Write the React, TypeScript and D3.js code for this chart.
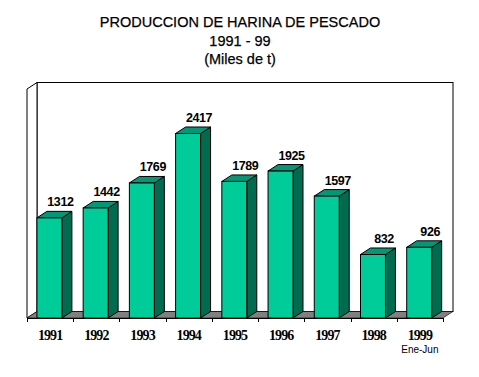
import React from "react";
import * as d3 from "d3";

const years = ["1991", "1992", "1993", "1994", "1995", "1996", "1997", "1998", "1999"];
const values = [1312, 1442, 1769, 2417, 1789, 1925, 1597, 832, 926];
const valueLabels = ["1312", "1442", "1769", "2417", "1789", "1925", "1597", "832", "926"];
const titleLines = ["PRODUCCION DE HARINA DE PESCADO", "1991 - 99", "(Miles de t)"];
const subLabel = "Ene-Jun";

const W = 479;
const H = 377;
const left = 27;
const right = 443;
const base = 318;
const top = 89;
const dx = 10;
const dy = -6.5;

export default function App() {
  const x = d3.scaleBand<string>().domain(years).range([left, right]).paddingInner(0).paddingOuter(0);
  const y = d3.scaleLinear().domain([0, 3000]).range([base, top]);
  const bw = x.bandwidth();
  const barOff = bw * 0.215;
  const barW = bw * 0.54;
  const bdx = 10;
  const bdy = -6.5;

  const front = "#00CC99";
  const topC = "#009977";
  const side = "#006B4F";

  return (
    <svg width={W} height={H} style={{ position: "absolute", left: 0, top: 0 }}>
      <rect x={0} y={0} width={W} height={H} fill="#fff" />
      {titleLines.map((t, i) => (
        <text key={i} x={240} y={27 + i * 18.5} textAnchor="middle"
          fontFamily="Liberation Sans, Arial, sans-serif" fontSize={14.5} fill="#000"
          stroke="#000" strokeWidth={0.25}>{t}</text>
      ))}
      {/* back wall */}
      <rect x={left + dx} y={top + dy} width={right - left} height={base - top} fill="#fff" stroke="#000" strokeWidth={1} />
      {/* side wall */}
      <polygon points={`${left},${top} ${left + dx},${top + dy} ${left + dx},${base + dy} ${left},${base}`}
        fill="#fff" stroke="#000" strokeWidth={1} />
      {/* floor */}
      <polygon points={`${left},${base} ${left + dx},${base + dy} ${right + dx},${base + dy} ${right},${base}`}
        fill="#808080" stroke="#000" strokeWidth={0.6} />
      {/* bars */}
      {years.map((yr, i) => {
        const x0 = (x(yr) as number) + barOff;
        const x1 = x0 + barW;
        const yt = y(values[i]);
        return (
          <g key={yr}>
            <polygon points={`${x1},${base} ${x1 + bdx},${base + bdy} ${x1 + bdx},${yt + bdy} ${x1},${yt}`}
              fill={side} stroke="#000" strokeWidth={1} strokeLinejoin="round" />
            <polygon points={`${x0},${yt} ${x0 + bdx},${yt + bdy} ${x1 + bdx},${yt + bdy} ${x1},${yt}`}
              fill={topC} stroke="#000" strokeWidth={1} strokeLinejoin="round" />
            <rect x={x0} y={yt} width={barW} height={base - yt} fill={front} stroke="#000" strokeWidth={1} />
            <text x={(x0 + x1) / 2 + 11} y={yt + bdy - 5} textAnchor="middle"
              fontFamily="Liberation Sans, Arial, sans-serif" fontSize={12.5} fontWeight="bold"
              letterSpacing={-0.4} fill="#000">{valueLabels[i]}</text>
          </g>
        );
      })}
      {/* axis line and ticks */}
      <line x1={left} x2={right} y1={base + 0.5} y2={base + 0.5} stroke="#000" strokeWidth={1} />
      {d3.range(years.length + 1).map((i) => {
        const tx = Math.round(left + i * bw) + 0.5;
        return <line key={i} x1={tx} x2={tx} y1={base} y2={base + 4} stroke="#000" strokeWidth={1} />;
      })}
      {years.map((yr) => (
        <text key={yr} x={(x(yr) as number) + bw / 2} y={340} textAnchor="middle"
          fontFamily="Liberation Serif, Times New Roman, serif" fontSize={14} fontWeight="bold"
          letterSpacing={-0.9} fill="#000">{yr}</text>
      ))}
      <text x={(x("1999") as number) + bw / 2} y={353} textAnchor="middle"
        fontFamily="Liberation Sans, Arial, sans-serif" fontSize={10} fill="#000">{subLabel}</text>
    </svg>
  );
}
